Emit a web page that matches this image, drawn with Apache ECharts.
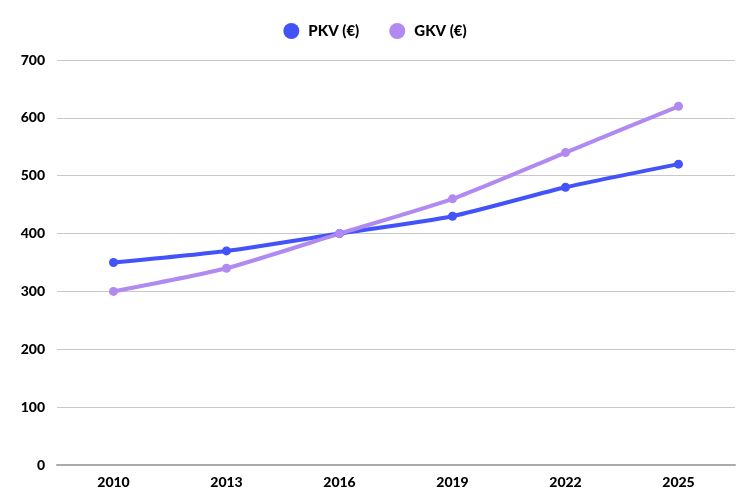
<!DOCTYPE html>
<html>
<head>
<meta charset="utf-8">
<script src="https://cdn.jsdelivr.net/npm/echarts@6/dist/echarts.min.js"></script>
<style>
html, body { margin: 0; padding: 0; background: #fff; }
#container { width: 750px; height: 500px; }
</style>
</head>
<body>
<div id="container"></div>
<script>
// data
var years = ['2010', '2013', '2016', '2019', '2022', '2025'];
var pkv   = [350, 370, 400, 430, 480, 520];
var gkv   = [300, 340, 400, 460, 540, 620];

var dom   = document.getElementById("container");
var chart = echarts.init(dom);

var font = {
    fontFamily: 'Lato',
    fontWeight: 900,
    fontSize: 14,
    color: '#000'
};

option = {
    animation: false,
    legend: {
        top: 18,
        left: 'center',
        icon: 'circle',
        itemWidth: 16,
        itemHeight: 16,
        itemGap: 30,
        textStyle: {
            fontFamily: 'Lato',
            fontWeight: 900,
            fontSize: 15,
            color: '#000',
            padding: [0, 0, 0, 4]
        },
        data: ['PKV (€)', 'GKV (€)']
    },
    grid: {
        left: 57,
        right: 15,
        top: 60,
        bottom: 35
    },
    xAxis: {
        type: 'category',
        data: years,
        axisLine: { lineStyle: { color: '#aaa', width: 2 } },
        axisTick: { show: false },
        axisLabel: Object.assign({ margin: 10 }, font)
    },
    yAxis: {
        type: 'value',
        min: 0,
        max: 700,
        interval: 100,
        axisLabel: Object.assign({ margin: 12 }, font),
        splitLine: { lineStyle: { color: '#c8c8c8', width: 1 } }
    },
    series: [
        {
            name: 'PKV (€)',
            type: 'line',
            data: pkv,
            smooth: 0.2,
            symbol: 'circle',
            symbolSize: 9,
            color: '#4353fa',
            lineStyle: { width: 4 }
        },
        {
            name: 'GKV (€)',
            type: 'line',
            data: gkv,
            smooth: 0.2,
            symbol: 'circle',
            symbolSize: 9,
            color: '#b08af0',
            lineStyle: { width: 4 }
        }
    ]
};

chart.setOption(option, true);
</script>
</body>
</html>
